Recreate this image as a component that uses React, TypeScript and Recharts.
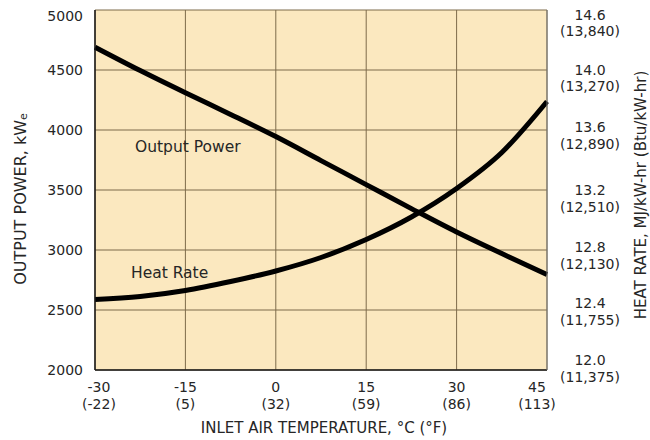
import React from "react";
import { CartesianGrid, Label, Line, LineChart, XAxis, YAxis } from "recharts";

// inlet air temperature, deg C
const temperatureC = [-30, -22.5, -15, -7.5, 0, 7.5, 15, 22.5, 30, 37.5, 45];
// output power, kWe
const outputPowerKWe = [4690, 4495, 4310, 4130, 3945, 3745, 3545, 3345, 3150, 2970, 2795];
// heat rate, MJ/kW-hr
const heatRateMJ = [12.47, 12.49, 12.53, 12.59, 12.66, 12.75, 12.87, 13.02, 13.21, 13.45, 13.79];

const xTicksC = [-30, -15, 0, 15, 30, 45];
const xTickLabelsC = ["-30", "-15", "0", "15", "30", "45"];
const xTickLabelsF = ["(-22)", "(5)", "(32)", "(59)", "(86)", "(113)"];

const powerTicks = [2000, 2500, 3000, 3500, 4000, 4500, 5000];

const heatRateTicks = [12.0, 12.4, 12.8, 13.2, 13.6, 14.0, 14.4];
const heatRateLabelsMJ = ["12.0", "12.4", "12.8", "13.2", "13.6", "14.0", "14.6"];
const heatRateLabelsBtu = ["(11,375)", "(11,755)", "(12,130)", "(12,510)", "(12,890)", "(13,270)", "(13,840)"];

const data = temperatureC.map((t, i) => ({
  t,
  power: outputPowerKWe[i],
  heat: heatRateMJ[i],
}));

const FONT = "'DejaVu Sans', sans-serif";
const TEXT = "#262626";
const GRID = "#7d6b4a";

function XTick(props: any) {
  const { x, y, payload } = props;
  const i = xTicksC.indexOf(payload.value);
  const shift = [4, 0, 0, 0, 0, -10][i] ?? 0;
  return (
    <g>
      <text x={x + shift} y={y + 14} textAnchor="middle" fontSize={14} fill={TEXT} fontFamily={FONT}>
        {xTickLabelsC[i]}
      </text>
      <text x={x + shift} y={y + 31} textAnchor="middle" fontSize={14} fill={TEXT} fontFamily={FONT}>
        {xTickLabelsF[i]}
      </text>
    </g>
  );
}

function LeftTick(props: any) {
  const { x, y, payload } = props;
  const dy = payload.value === 5000 ? 6 : 0;
  return (
    <text x={x} y={y + dy + 5} textAnchor="end" fontSize={14} fill={TEXT} fontFamily={FONT}>
      {payload.value}
    </text>
  );
}

function RightTick(props: any) {
  const { x, y, payload } = props;
  const i = heatRateTicks.indexOf(payload.value);
  const off = [-10, -7, -3, 0, -3, -0.5, 4.5][i] ?? 0;
  const base = y + off + 5;
  return (
    <g>
      <text x={x + 35} y={base} textAnchor="middle" fontSize={14} fill={TEXT} fontFamily={FONT}>
        {heatRateLabelsMJ[i]}
      </text>
      <text x={x + 35} y={base + 16.5} textAnchor="middle" fontSize={14} fill={TEXT} fontFamily={FONT}>
        {heatRateLabelsBtu[i]}
      </text>
    </g>
  );
}

export default function App() {
  return (
    <div style={{ position: "absolute", left: 0, top: 0, width: 650, height: 440, background: "#fff" }}>
      <LineChart width={650} height={440} data={data} margin={{ top: 10, right: 0, bottom: 0, left: 1 }}>
        <CartesianGrid fill="#fbe8bf" stroke={GRID} strokeWidth={1} />
        <XAxis
          dataKey="t"
          type="number"
          domain={[-30, 45]}
          ticks={xTicksC}
          height={70}
          tickLine={false}
          tickSize={6}
          tickMargin={2}
          axisLine={{ stroke: "#1a1a1a", strokeWidth: 1.5 }}
          tick={<XTick />}
        >
          <Label
            content={() => (
              <text x={324} y={433} textAnchor="middle" fontSize={15} fill={TEXT} fontFamily={FONT}>
                INLET AIR TEMPERATURE, °C (°F)
              </text>
            )}
          />
        </XAxis>
        <YAxis
          type="number"
          domain={[2000, 5000]}
          ticks={powerTicks}
          width={94}
          tickLine={false}
          tickSize={6}
          tickMargin={6}
          axisLine={{ stroke: "#1a1a1a", strokeWidth: 1.5 }}
          tick={<LeftTick />}
        >
          <Label
            content={() => (
              <g>
                <text
                  x={21}
                  y={199}
                  transform="rotate(-90 21 199)"
                  textAnchor="middle"
                  dominantBaseline="middle"
                  fontSize={16}
                  fill={TEXT}
                  fontFamily={FONT}
                >
                  OUTPUT POWER, kW
                  <tspan fontSize={11} dy={3}>e</tspan>
                </text>
                <text x={135} y={152} fontSize={15.5} fill={TEXT} fontFamily={FONT}>
                  Output Power
                </text>
                <text x={131} y={278} fontSize={15.5} fill={TEXT} fontFamily={FONT}>
                  Heat Rate
                </text>
              </g>
            )}
          />
        </YAxis>
        <YAxis
          yAxisId="heat"
          orientation="right"
          type="number"
          domain={[12.0, 14.4]}
          ticks={heatRateTicks}
          width={103}
          tickLine={false}
          tickSize={6}
          tickMargin={2}
          axisLine={{ stroke: "#777", strokeWidth: 1 }}
          tick={<RightTick />}
        >
          <Label
            content={() => (
              <text
                x={641}
                y={195}
                transform="rotate(-90 641 195)"
                textAnchor="middle"
                dominantBaseline="middle"
                fontSize={15}
                fill={TEXT}
                fontFamily={FONT}
              >
                HEAT RATE, MJ/kW-hr (Btu/kW-hr)
              </text>
            )}
          />
        </YAxis>
        <Line
          dataKey="power"
          type="monotone"
          stroke="#000"
          strokeWidth={5}
          dot={false}
          activeDot={false}
          isAnimationActive={false}
        />
        <Line
          yAxisId="heat"
          dataKey="heat"
          type="monotone"
          stroke="#000"
          strokeWidth={5}
          dot={false}
          activeDot={false}
          isAnimationActive={false}
        />
      </LineChart>
    </div>
  );
}
